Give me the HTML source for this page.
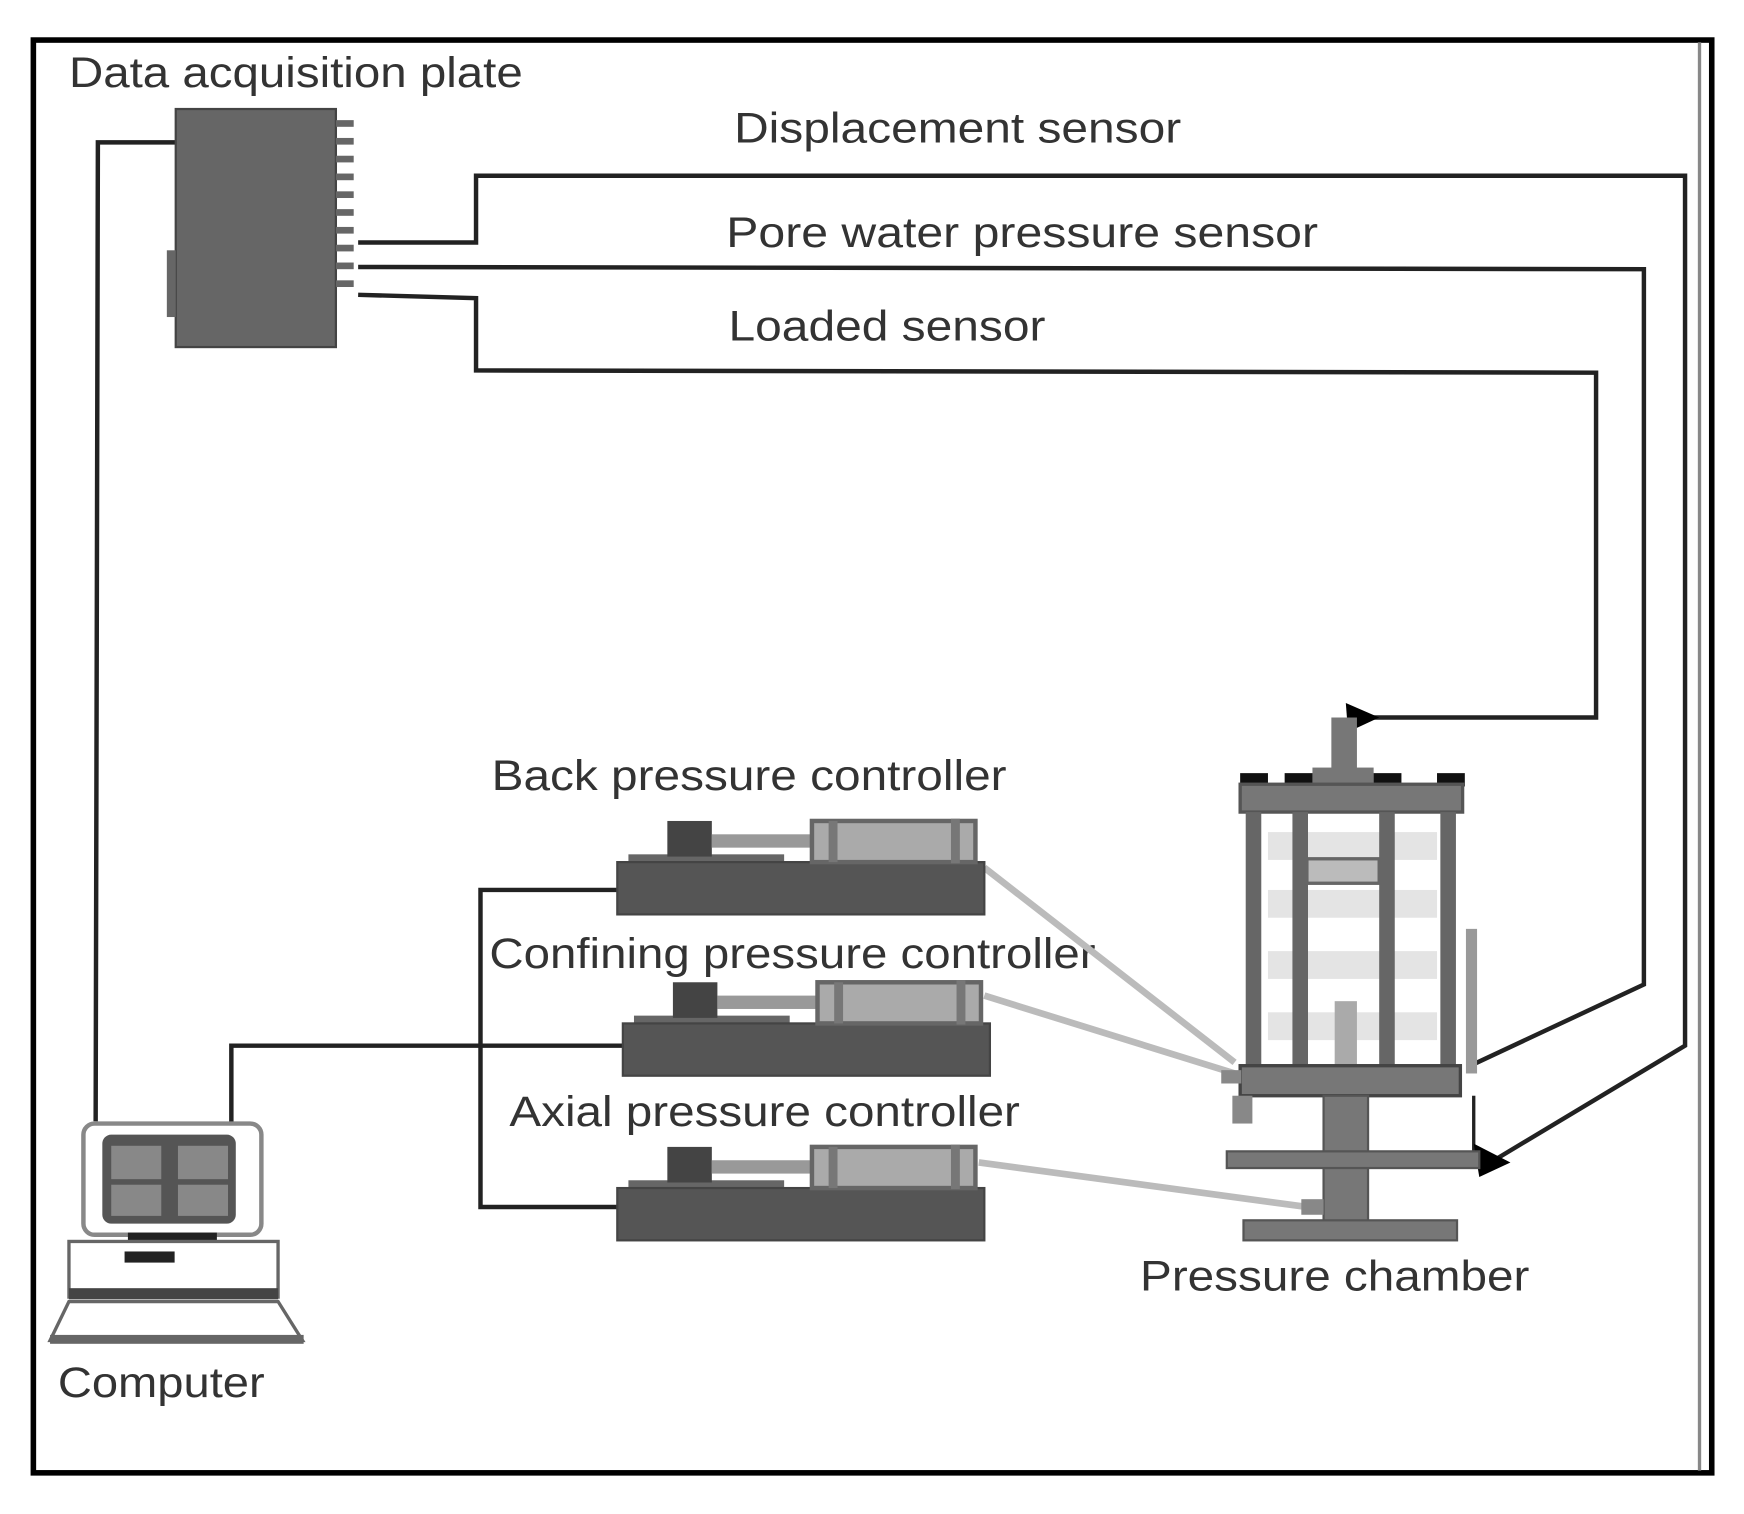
<!DOCTYPE html>
<html><head><meta charset="utf-8"><style>html,body{margin:0;padding:0;background:#fff}svg{display:block}</style></head>
<body>
<svg width="1744" height="1514" viewBox="0 0 1568 1361" preserveAspectRatio="none" xmlns="http://www.w3.org/2000/svg">
<rect x="0" y="0" width="1568" height="1361" fill="#fff"/>
<!-- frame -->
<rect x="30" y="36" width="1509" height="1288" fill="none" stroke="#000" stroke-width="5"/>
<line x1="1528" y1="38" x2="1528" y2="1322" stroke="#888" stroke-width="3"/>
<g font-family="Liberation Sans, sans-serif" font-size="38" fill="#333">
<text x="62" y="78" textLength="408" lengthAdjust="spacingAndGlyphs">Data acquisition plate</text>
<text x="660" y="128" textLength="402" lengthAdjust="spacingAndGlyphs">Displacement sensor</text>
<text x="653" y="222" textLength="532" lengthAdjust="spacingAndGlyphs">Pore water pressure sensor</text>
<text x="655" y="306" textLength="285" lengthAdjust="spacingAndGlyphs">Loaded sensor</text>
<text x="442" y="710" textLength="463" lengthAdjust="spacingAndGlyphs">Back pressure controller</text>
<text x="440" y="870" textLength="545" lengthAdjust="spacingAndGlyphs">Confining pressure controller</text>
<text x="458" y="1012" textLength="459" lengthAdjust="spacingAndGlyphs">Axial pressure controller</text>
<text x="1025" y="1160" textLength="350" lengthAdjust="spacingAndGlyphs">Pressure chamber</text>
<text x="52" y="1256" textLength="186" lengthAdjust="spacingAndGlyphs">Computer</text>
</g>
<!-- wires -->
<g fill="none" stroke="#222" stroke-width="4">
<polyline points="160,128 88,128 86,1008"/>
<polyline points="322,218 428,218 428,158 1515,158 1515,940 1340,1045"/>
<polyline points="322,240 1478,242 1478,885 1322,958"/>
<polyline points="322,265 428,268 428,333 1435,335 1435,645 1225,645"/>
<polyline points="555,800 432,800 432,1085 555,1085"/>
<polyline points="208,1015 208,940 560,940"/>
<line x1="1325" y1="985" x2="1325" y2="1040" stroke-width="3"/>
</g>
<polygon points="1210,632 1240,645 1212,658" fill="#000"/>
<polygon points="1325,1028 1358,1045 1330,1058" fill="#000"/>
<!-- gray tubes -->
<g stroke="#bbb" stroke-width="6" fill="none">
<line x1="885" y1="780" x2="1110" y2="955"/>
<line x1="885" y1="895" x2="1110" y2="965"/>
<line x1="880" y1="1045" x2="1175" y2="1085"/>
</g>
<!-- DAQ box -->
<rect x="158" y="98" width="144" height="214" fill="#666" stroke="#444" stroke-width="2"/>
<g fill="#666"><rect x="302" y="108" width="16" height="6"/><rect x="302" y="124" width="16" height="6"/><rect x="302" y="140" width="16" height="6"/><rect x="302" y="156" width="16" height="6"/><rect x="302" y="172" width="16" height="6"/><rect x="302" y="188" width="16" height="6"/><rect x="302" y="204" width="16" height="6"/><rect x="302" y="220" width="16" height="6"/><rect x="302" y="236" width="16" height="6"/><rect x="302" y="252" width="16" height="6"/><rect x="150" y="225" width="8" height="60"/></g>
<!-- controllers -->
<g>
<g id="c1">
<rect x="565" y="768" width="140" height="9" fill="#666"/>
<rect x="555" y="775" width="330" height="47" fill="#555" stroke="#444" stroke-width="2"/>
<rect x="600" y="738" width="40" height="32" fill="#444"/>
<rect x="640" y="750" width="90" height="12" fill="#999"/>
<rect x="730" y="738" width="147" height="37" fill="#aaa" stroke="#666" stroke-width="4"/>
<rect x="745" y="738" width="8" height="37" fill="#777"/><rect x="855" y="736" width="8" height="40" fill="#777"/>
</g>
<use href="#c1" transform="translate(5,145)"/>
<use href="#c1" transform="translate(0,293)"/>
</g>
<!-- pressure chamber -->
<g>
<rect x="1197" y="645" width="23" height="60" fill="#777"/>
<rect x="1180" y="690" width="55" height="15" fill="#777"/>
<g fill="#111"><rect x="1115" y="695" width="25" height="12"/><rect x="1155" y="695" width="25" height="12"/><rect x="1235" y="695" width="25" height="12"/><rect x="1292" y="695" width="25" height="12"/></g>
<rect x="1115" y="705" width="200" height="25" fill="#777" stroke="#555" stroke-width="3"/>
<g fill="#e4e4e4"><rect x="1140" y="748" width="152" height="25"/><rect x="1140" y="800" width="152" height="25"/><rect x="1140" y="855" width="152" height="25"/><rect x="1140" y="910" width="152" height="25"/></g>
<g fill="#666"><rect x="1120" y="730" width="14" height="228"/><rect x="1162" y="730" width="14" height="228"/><rect x="1240" y="730" width="14" height="228"/><rect x="1295" y="730" width="14" height="228"/></g>
<rect x="1175" y="772" width="65" height="22" fill="#bbb" stroke="#666" stroke-width="3"/>
<rect x="1200" y="900" width="20" height="58" fill="#aaa"/>
<rect x="1318" y="835" width="10" height="130" fill="#999"/>
<rect x="1115" y="958" width="198" height="27" fill="#777" stroke="#444" stroke-width="3"/>
<rect x="1098" y="962" width="18" height="12" fill="#888"/>
<rect x="1108" y="985" width="18" height="25" fill="#888"/>
<rect x="1190" y="985" width="40" height="115" fill="#777" stroke="#555" stroke-width="2"/>
<rect x="1103" y="1035" width="227" height="15" fill="#777" stroke="#555" stroke-width="2"/>
<rect x="1118" y="1097" width="192" height="18" fill="#777" stroke="#555" stroke-width="2"/>
<rect x="1170" y="1078" width="20" height="14" fill="#888"/>
</g>
<!-- computer -->
<g>
<rect x="75" y="1010" width="160" height="100" rx="10" fill="#fff" stroke="#888" stroke-width="4"/>
<rect x="92" y="1020" width="120" height="80" rx="8" fill="#555"/>
<g fill="#888"><rect x="100" y="1030" width="45" height="30"/><rect x="160" y="1030" width="45" height="30"/><rect x="100" y="1065" width="45" height="28"/><rect x="160" y="1065" width="45" height="28"/></g>
<rect x="115" y="1108" width="80" height="8" fill="#222"/>
<rect x="62" y="1116" width="188" height="50" fill="#fff" stroke="#666" stroke-width="3"/>
<rect x="62" y="1158" width="188" height="10" fill="#444"/>
<rect x="112" y="1125" width="45" height="10" fill="#222"/>
<polygon points="62,1170 250,1170 272,1205 45,1205" fill="#fff" stroke="#666" stroke-width="3"/>
<rect x="45" y="1200" width="228" height="8" fill="#666"/>
</g>
</svg>
</body></html>
